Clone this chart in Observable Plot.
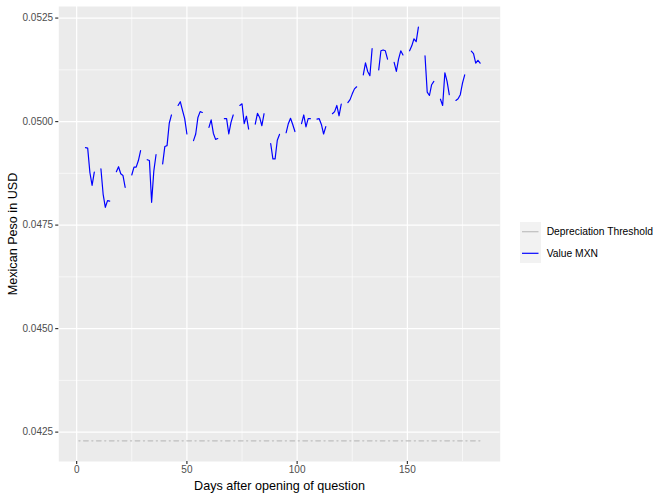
<!DOCTYPE html>
<html><head><meta charset="utf-8">
<script src="https://cdn.jsdelivr.net/npm/d3@7"></script>
<script src="https://cdn.jsdelivr.net/npm/@observablehq/plot@0.6"></script>
<style>
body{margin:0;background:#fff;}
#wrap{position:relative;width:664px;height:498px;font-family:"Liberation Sans",Arial,Helvetica,sans-serif;}
#legend{position:absolute;left:0;top:0;pointer-events:none;}
</style></head><body><div id="wrap"></div>
<script>
// ---- data ----
const mxnDays = [
  4,5,6,7,8, 11,12,13,14,15, 18,19,20,21,22, 25,26,27,28,29,
  32,33,34,35,36, 39,40,41,42,43, 46,47,48,49,50, 53,54,55,56,57,
  60,61,62,63,64, 67,68,69,70,71, 74,75,76,77,78, 81,82,83,84,85,
  88,89,90,91,92, 95,96,97,98,99, 102,103,104,105,106, 109,110,111,112,113,
  116,117,118,119,120, 123,124,125,126,127, 130,131,132,133,134, 137,138,139,140,141,
  144,145,146,147,148, 151,152,153,154,155, 158,159,160,161,162, 165,166,167,168,169,
  172,173,174,175,176, 179,180,181,182,183
];
const mxnValues = [
  0.04937,0.04936,0.04877,0.04846,0.04878,  0.04886,0.04825,0.04793,0.04809,0.04808,
  0.04879,0.04891,0.04874,0.04870,0.04841,  0.04871,0.04890,0.04890,0.04906,0.04930,
  0.04908,0.04906,0.04805,0.04881,0.04920,  0.04898,0.04940,0.04942,0.04996,0.05016,
  0.05039,0.05048,0.05027,0.05007,0.04970,  0.04954,0.04970,0.05010,0.05024,0.05022,
  0.04986,0.05004,0.04972,0.04957,0.04959,  0.05007,0.05007,0.04970,0.04998,0.05016,
  0.05039,0.05043,0.04995,0.05013,0.04982,  0.04994,0.05020,0.05010,0.04990,0.05019,
  0.04947,0.04910,0.04910,0.04955,0.04969,  0.04973,0.04995,0.05008,0.04993,0.04976,
  0.04995,0.05016,0.04987,0.05007,0.05007,  0.05006,0.05007,0.04993,0.04970,0.04988,
  0.05019,0.05024,0.05039,0.05014,0.05042,  0.05046,0.05053,0.05067,0.05079,0.05084,
  0.05113,0.05142,0.05121,0.05111,0.05176,  0.05125,0.05171,0.05173,0.05171,0.05151,
  0.05143,0.05121,0.05151,0.05171,0.05161,  0.05171,0.05183,0.05200,0.05193,0.05228,
  0.05159,0.05071,0.05063,0.05089,0.05097,  0.05054,0.05039,0.05118,0.05097,0.05065,
  0.05051,0.05055,0.05065,0.05093,0.05113,  0.05170,0.05164,0.05141,0.05148,0.05141
];
const thresholdDays = [1, 183];
const thresholdValue = 0.04229;
const xTicks = [0, 50, 100, 150];
const xMinorTicks = [25, 75, 125, 175];
const yTicks = [0.0425, 0.0450, 0.0475, 0.0500, 0.0525];
const yTickLabels = ["0.0425", "0.0450", "0.0475", "0.0500", "0.0525"];
const yMinorTicks = [0.04375, 0.04625, 0.04875, 0.05125];
const seriesNames = ["Depreciation Threshold", "Value MXN"];
const seriesColors = ["#BEBEBE", "blue"];
const xTitle = "Days after opening of question";
const yTitle = "Mexican Peso in USD";

// ---- build tables ----
let seg = 0;
const rows = mxnDays.map((d, i) => {
  if (i > 0 && d - mxnDays[i - 1] > 1) seg++;
  return {day: d, value: mxnValues[i], seg};
});
const threshRows = thresholdDays.map(d => ({day: d, value: thresholdValue}));

const pad = e => { const r = e[1] - e[0]; return [e[0] - 0.05 * r, e[1] + 0.05 * r]; };
const xDomain = pad(d3.extent([...thresholdDays, ...mxnDays]));
const yDomain = pad(d3.extent([thresholdValue, ...mxnValues]));

const W = 664, H = 498;
const mL = 58.3, mR = 164.3, mT = 6, mB = 37;
const lw = 1.18;
const font = '"Liberation Sans",Arial,Helvetica,sans-serif';

const chart = Plot.plot({
  width: W, height: H,
  marginLeft: mL, marginRight: mR, marginTop: mT, marginBottom: mB,
  style: {fontFamily: font, background: "white", overflow: "visible"},
  x: {domain: xDomain},
  y: {domain: yDomain},
  marks: [
    Plot.frame({fill: "#EBEBEB", stroke: null}),
    Plot.gridX(xMinorTicks, {stroke: "white", strokeOpacity: 1, strokeWidth: lw / 2}),
    Plot.gridY(yMinorTicks, {stroke: "white", strokeOpacity: 1, strokeWidth: lw / 2}),
    Plot.gridX(xTicks, {stroke: "white", strokeOpacity: 1, strokeWidth: lw}),
    Plot.gridY(yTicks, {stroke: "white", strokeOpacity: 1, strokeWidth: lw}),
    Plot.line(threshRows, {x: "day", y: "value", stroke: seriesColors[0], strokeWidth: lw,
      strokeDasharray: "1.2,3.5,4.7,3.5"}),
    Plot.line(rows, {x: "day", y: "value", z: "seg", stroke: seriesColors[1], strokeWidth: lw}),
    Plot.axisX(xTicks, {tickSize: 3.1, tickPadding: 1.2, fontSize: 10, stroke: "#333333",
      strokeWidth: lw, fill: "#4D4D4D", label: null}),
    Plot.axisY(yTicks, {tickSize: 3.1, tickPadding: 2.6, fontSize: 10, stroke: "#333333",
      strokeWidth: lw, fill: "#4D4D4D", label: null,
      tickFormat: d => yTickLabels[yTicks.indexOf(d)]}),
    Plot.text([xTitle], {frameAnchor: "bottom", dy: 24, fontSize: 12.6, fill: "black",
      lineAnchor: "middle", textAnchor: "middle"}),
    Plot.text([yTitle], {frameAnchor: "left", dx: -46, rotate: -90, fontSize: 12.6, fill: "black",
      lineAnchor: "middle", textAnchor: "middle"})
  ]
});

const wrap = document.getElementById("wrap");
wrap.appendChild(chart);

// ---- legend ----
const leg = d3.select(wrap).append("svg").attr("id", "legend")
  .attr("width", W).attr("height", H).style("font-family", font);
const keyX = 520, keyW = 21, keyTop = 222, keyH = 41;
const centers = [231.7, 253.3];
leg.append("rect").attr("x", keyX).attr("y", keyTop).attr("width", keyW).attr("height", keyH)
  .attr("fill", "#F2F2F2");
seriesNames.forEach((name, i) => {
  leg.append("line").attr("x1", keyX + 2).attr("x2", keyX + keyW - 2.5)
    .attr("y1", centers[i]).attr("y2", centers[i])
    .attr("stroke", seriesColors[i]).attr("stroke-width", lw);
  leg.append("text").attr("x", 546.7).attr("y", centers[i]).attr("dy", "0.35em")
    .attr("font-size", 10.3).attr("fill", "black").text(name);
});
</script></body></html>
